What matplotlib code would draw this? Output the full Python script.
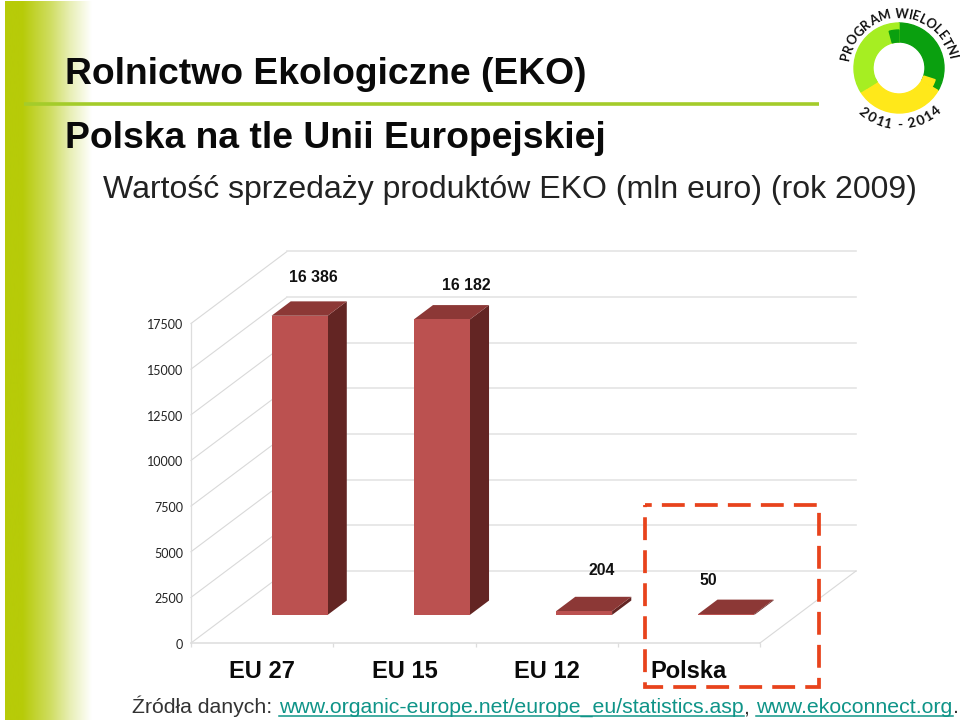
import matplotlib
matplotlib.use('Agg')
import matplotlib.pyplot as plt
from matplotlib.patches import Wedge, Polygon
from matplotlib.colors import LinearSegmentedColormap
from matplotlib.font_manager import FontProperties
from matplotlib.textpath import TextPath
from matplotlib.transforms import ScaledTranslation
import numpy as np

# data
categories = ['EU 27', 'EU 15', 'EU 12', 'Polska']
sales = [16386, 16182, 204, 50]
value_labels = ['16 386', '16 182', '204', '50']
y_ticks = [0, 2500, 5000, 7500, 10000, 12500, 15000, 17500]

W, H = 960, 724
fig = plt.figure(figsize=(W / 100, H / 100), dpi=100)
plt.rcParams['font.family'] = 'Liberation Sans'

# pixel axes for the slide decoration
deco = fig.add_axes([0, 0, 1, 1])
deco.axis('off')

# green fade on the left
fade = LinearSegmentedColormap.from_list('fade', [(0, '#b7cb08'), (0.2, '#b7cb08'), (0.52, '#cfdd60'),
                                                  (0.75, '#e8efb5'), (1, '#ffffff')])
deco.imshow(np.linspace(0, 1, 256).reshape(1, -1), cmap=fade, extent=[5, 92, 720, 1],
            aspect='auto', zorder=0)
deco.set_xlim(0, W)
deco.set_ylim(H, 0)
deco.plot([24, 819], [104, 104], color='#a4cc2a', lw=2.6, solid_capstyle='butt', zorder=1)

# titles
deco.text(65, 84, 'Rolnictwo Ekologiczne (EKO)', fontsize=26.85, fontweight='bold', va='baseline', color='#0a0a0a')
deco.text(65, 148, 'Polska na tle Unii Europejskiej', fontsize=26.85, fontweight='bold', va='baseline', color='#0a0a0a')
deco.text(103, 198, 'Wartość sprzedaży produktów EKO (mln euro) (rok 2009)', fontsize=23.0, va='baseline', color='#222222')

# logo, y axis is flipped here so the wedge angles run clockwise
cx, cy = 899, 68
deco.add_patch(Wedge((cx, cy), 45, -90, 30, width=19, color='#0aa00f', zorder=2))
deco.add_patch(Wedge((cx, cy), 45, 30, 148, width=19, color='#ffe81a', zorder=2))
deco.add_patch(Wedge((cx, cy), 45, 148, 270, width=19, color='#a6ee22', zorder=2))
deco.add_patch(Wedge((cx, cy), 38, -105, -90, width=12, color='#0aa00f', zorder=2))
deco.add_patch(Wedge((cx, cy), 38, 18, 30, width=12, color='#ffe81a', zorder=2))
deco.add_patch(Wedge((cx, cy), 38, 148, 156, width=12, color='#a6ee22', zorder=2))

logo_font = FontProperties(family='Lato', weight='bold')


def arc_text(txt, a0, a1, r, size, top=True):
    # letter spacing follows the width of each letter
    widths = [TextPath((0, 0), c, size=10, prop=logo_font).get_extents().width + 1.8 if c != ' ' else 3.5
              for c in txt]
    edges = np.cumsum(widths)
    mids = (edges - np.array(widths) / 2) / edges[-1]
    for ch, f in zip(txt, mids):
        a = a0 + (a1 - a0) * f
        px = cx + r * np.cos(np.radians(a))
        py = cy - r * np.sin(np.radians(a))
        rot = a - 90 if top else a + 90
        deco.text(px, py, ch, fontsize=size, family='Lato', fontweight='bold', ha='center', va='center',
                  rotation=rot, rotation_mode='anchor', color='#111111', zorder=3)


arc_text('PROGRAM WIELOLETNI', 172, 10, 54, 9.3, top=True)
arc_text('2011 - 2014', 226, 316, 57, 10, top=False)

# chart plane: front wall of the 3d box
left, right, y0, y_top = 191, 760, 643, 323.5
ax = fig.add_axes([left / W, 1 - y0 / H, (right - left) / W, (y0 - y_top) / H])
ax.patch.set_alpha(0)
ax.set_xlim(0, len(categories))
ax.set_ylim(0, 17500)
for s in ax.spines.values():
    s.set_visible(False)

# depth of the box, in data units
depth_x = 96 / ((right - left) / len(categories))
depth_y = 72 / ((y0 - y_top) / 17500)


def proj(x, v, d):
    return x + d * depth_x, v + d * depth_y


for v in y_ticks:
    xs, ys = zip(proj(0, v, 0), proj(0, v, 1))
    ax.plot(xs, ys, color='#d9d9d9', lw=0.8, clip_on=False, zorder=1)
    xs, ys = zip(proj(0, v, 1), proj(len(categories), v, 1))
    ax.plot(xs, ys, color='#e4e4e4', lw=1.2, clip_on=False, zorder=1)
ax.plot([0, 0], [0, 17500], color='#dddddd', lw=0.9, clip_on=False, zorder=1)
xs, ys = zip(proj(0, 0, 0), proj(len(categories), 0, 0))
ax.plot(xs, ys, color='#dddddd', lw=1.1, clip_on=False, zorder=1)
xs, ys = zip(proj(len(categories), 0, 0), proj(len(categories), 0, 1))
ax.plot(xs, ys, color='#d9d9d9', lw=0.8, clip_on=False, zorder=1)

ax.set_yticks(y_ticks)
ax.set_yticklabels([str(v) for v in y_ticks], family='Lato', fontsize=9, color='#222222')
ax.tick_params(axis='y', length=0, pad=5.5)
for lab in ax.get_yticklabels():
    lab.set_transform(lab.get_transform() + ScaledTranslation(0, -1 / 100, fig.dpi_scale_trans))
ax.set_xticks(np.arange(len(categories) + 1))
ax.set_xticklabels([])
ax.tick_params(axis='x', length=3, color='#dddddd', width=0.9)

# bars
bar_w = 0.394
d0, d1 = 0.39, 0.59
label_shift = [(-5, 24), (5.5, 20), (-2, 26), (-37, 19)]
for i, v in enumerate(sales):
    xa, xb = i + 0.5 - bar_w / 2, i + 0.5 + bar_w / 2
    front = [proj(xa, 0, d0), proj(xb, 0, d0), proj(xb, v, d0), proj(xa, v, d0)]
    side = [proj(xb, 0, d0), proj(xb, 0, d1), proj(xb, v, d1), proj(xb, v, d0)]
    top = [proj(xa, v, d0), proj(xb, v, d0), proj(xb, v, d1), proj(xa, v, d1)]
    ax.add_patch(Polygon(side, closed=True, fc='#632523', ec='none', clip_on=False, zorder=3))
    ax.add_patch(Polygon(top, closed=True, fc='#8c3836', ec='none', clip_on=False, zorder=3))
    ax.add_patch(Polygon(front, closed=True, fc='#bb5150', ec='none', clip_on=False, zorder=4))
    # category names sit under the front edge of the box
    ax.annotate(categories[i], xy=(i + 0.5, 0), xytext=(0, -29 * 0.72), textcoords='offset points',
                fontsize=17, fontweight='bold', ha='center', va='center', color='#0a0a0a', annotation_clip=False)
    lx, ly = proj(i + 0.5, v, d1)
    ax.annotate(value_labels[i], xy=(lx, ly), xytext=(label_shift[i][0] * 0.72, label_shift[i][1] * 0.72),
                textcoords='offset points', fontsize=11.4, fontweight='bold', ha='center', va='center',
                color='#111111', annotation_clip=False, zorder=5)

# dashed highlight around Polska
deco2 = fig.add_axes([0, 0, 1, 1])
deco2.set_xlim(0, W)
deco2.set_ylim(H, 0)
deco2.axis('off')
deco2.plot([645, 819, 819, 645, 645], [505, 505, 687, 687, 505], color='#e8431c', lw=2.7,
           linestyle=(4.3, (6.1, 2.7)), dash_joinstyle='miter')

# footer, pieces chained one after another
fig.canvas.draw()
rend = fig.canvas.get_renderer()
x = 132
for txt, col, link in [('Źródła danych: ', '#333333', False),
                       ('www.organic-europe.net/europe_eu/statistics.asp', '#0f9488', True),
                       (', ', '#333333', False),
                       ('www.ekoconnect.org', '#0f9488', True),
                       ('.', '#333333', False)]:
    t = deco2.text(x, 713, txt, fontsize=15.3, va='baseline', color=col)
    w = t.get_window_extent(rend).width
    if txt.endswith(' '):
        w += 1
    if link:
        deco2.plot([x, x + w], [716, 716], color=col, lw=1.1)
    x += w

fig.savefig('out.png', dpi=100)
